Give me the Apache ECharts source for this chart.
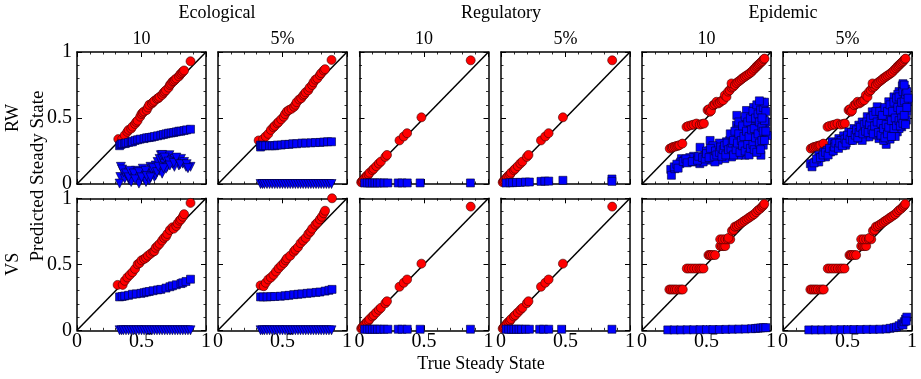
<!DOCTYPE html>
<html><head><meta charset="utf-8">
<script src="https://cdn.jsdelivr.net/npm/echarts@6/dist/echarts.min.js"></script>
<style>html,body{margin:0;padding:0;background:#fff}#c{width:921px;height:379px}</style>
</head><body><div id="c"></div>
<script>
// ---------- texts ----------
const groupTitles = ['Ecological', 'Regulatory', 'Epidemic'];
const colTitles = ['10', '5%', '10', '5%', '10', '5%'];
const rowTitles = ['RW', 'VS'];
const xAxisTitle = 'True Steady State';
const yAxisTitle = 'Predicted Steady State';
const tickMin = 0, tickMax = 1, tickStep = 0.5;
const diag = [[0, 0], [1, 1]];

// ---------- Ecological ----------
const ecoRedRW10 = [[0.32,0.34],[0.35,0.34],[0.37,0.37],[0.39,0.395],[0.40,0.41],[0.42,0.42],[0.43,0.435],[0.45,0.455],[0.46,0.47],[0.47,0.48],[0.49,0.51],[0.50,0.53],[0.51,0.54],[0.52,0.55],[0.54,0.56],[0.55,0.58],[0.56,0.60],[0.58,0.61],[0.59,0.62],[0.60,0.63],[0.62,0.645],[0.63,0.65],[0.64,0.66],[0.66,0.675],[0.67,0.69],[0.68,0.70],[0.69,0.71],[0.71,0.73],[0.72,0.75],[0.73,0.76],[0.74,0.775],[0.75,0.78],[0.76,0.79],[0.77,0.80],[0.79,0.815],[0.80,0.83],[0.81,0.84],[0.82,0.85],[0.83,0.86],[0.88,0.93]];
const ecoRedRW5 = [[0.315,0.33],[0.35,0.34],[0.37,0.36],[0.39,0.38],[0.41,0.41],[0.43,0.43],[0.44,0.44],[0.46,0.46],[0.47,0.47],[0.49,0.49],[0.51,0.51],[0.52,0.53],[0.535,0.55],[0.55,0.56],[0.57,0.57],[0.59,0.585],[0.60,0.60],[0.61,0.62],[0.63,0.64],[0.645,0.65],[0.66,0.67],[0.67,0.68],[0.68,0.695],[0.70,0.71],[0.71,0.73],[0.73,0.75],[0.74,0.77],[0.755,0.79],[0.77,0.80],[0.79,0.825],[0.80,0.84],[0.82,0.86],[0.83,0.87],[0.88,0.94]];
const ecoRedVS10 = [[0.315,0.344],[0.354,0.344],[0.37,0.375],[0.39,0.40],[0.41,0.42],[0.43,0.44],[0.45,0.465],[0.47,0.50],[0.485,0.51],[0.50,0.53],[0.52,0.54],[0.535,0.55],[0.55,0.565],[0.57,0.58],[0.59,0.595],[0.60,0.60],[0.61,0.625],[0.625,0.64],[0.64,0.655],[0.66,0.68],[0.675,0.70],[0.69,0.71],[0.70,0.73],[0.72,0.76],[0.74,0.78],[0.75,0.77],[0.77,0.79],[0.78,0.81],[0.795,0.83],[0.806,0.84],[0.82,0.86],[0.83,0.88],[0.88,0.965]];
const ecoRedVS5 = [[0.33,0.34],[0.354,0.334],[0.37,0.36],[0.39,0.385],[0.41,0.40],[0.43,0.42],[0.45,0.445],[0.47,0.47],[0.49,0.49],[0.51,0.51],[0.525,0.53],[0.535,0.545],[0.56,0.565],[0.587,0.595],[0.60,0.61],[0.62,0.63],[0.64,0.66],[0.66,0.68],[0.68,0.70],[0.70,0.73],[0.716,0.747],[0.73,0.77],[0.755,0.80],[0.77,0.815],[0.79,0.84],[0.805,0.86],[0.82,0.886],[0.83,0.906],[0.884,1.0]];
const ecoSqRW10 = [[0.33,0.29],[0.34,0.30],[0.35,0.305],[0.37,0.306],[0.38,0.31],[0.40,0.315],[0.42,0.32],[0.43,0.32],[0.45,0.33],[0.47,0.335],[0.49,0.34],[0.52,0.344],[0.54,0.35],[0.56,0.352],[0.58,0.355],[0.60,0.36],[0.625,0.365],[0.65,0.37],[0.67,0.375],[0.69,0.38],[0.71,0.385],[0.73,0.387],[0.75,0.39],[0.77,0.395],[0.79,0.40],[0.806,0.40],[0.83,0.405],[0.85,0.41],[0.88,0.415]];
const ecoSqRW5 = [[0.33,0.28],[0.33,0.295],[0.34,0.29],[0.35,0.29],[0.37,0.29],[0.40,0.29],[0.42,0.29],[0.44,0.29],[0.46,0.295],[0.49,0.295],[0.52,0.30],[0.55,0.30],[0.58,0.305],[0.61,0.305],[0.65,0.31],[0.68,0.31],[0.72,0.312],[0.755,0.314],[0.79,0.315],[0.82,0.318],[0.85,0.32],[0.88,0.32]];
const ecoSqVS10 = [[0.33,0.253],[0.35,0.256],[0.37,0.26],[0.40,0.265],[0.43,0.273],[0.46,0.276],[0.496,0.28],[0.52,0.285],[0.54,0.29],[0.56,0.294],[0.59,0.30],[0.625,0.306],[0.65,0.31],[0.69,0.32],[0.72,0.33],[0.74,0.337],[0.77,0.345],[0.806,0.354],[0.82,0.36],[0.845,0.37],[0.88,0.387]];
const ecoSqVS5 = [[0.33,0.253],[0.35,0.253],[0.38,0.253],[0.41,0.255],[0.44,0.256],[0.483,0.258],[0.52,0.262],[0.55,0.265],[0.587,0.27],[0.62,0.273],[0.65,0.276],[0.69,0.28],[0.72,0.283],[0.76,0.287],[0.79,0.29],[0.83,0.297],[0.86,0.303],[0.884,0.31]];
const ecoTriRW10 = [[0.34,0.13],[0.336,0.053],[0.33,0.003],[0.37,0.04],[0.39,0.066],[0.405,0.028],[0.43,0.09],[0.44,0.053],[0.47,0.028],[0.457,0.10],[0.496,0.078],[0.51,0.116],[0.52,0.04],[0.535,0.015],[0.55,0.09],[0.57,0.13],[0.587,0.078],[0.60,0.053],[0.61,0.14],[0.625,0.167],[0.64,0.19],[0.65,0.218],[0.66,0.19],[0.677,0.154],[0.69,0.205],[0.70,0.13],[0.716,0.218],[0.73,0.18],[0.74,0.154],[0.755,0.19],[0.78,0.167],[0.79,0.14],[0.806,0.19],[0.82,0.154],[0.83,0.167],[0.845,0.13],[0.88,0.13],[0.64,0.10],[0.66,0.078],[0.61,0.066],[0.56,0.028],[0.48,0.003],[0.42,0.015],[0.755,0.13],[0.69,0.116],[0.66,0.22],[0.68,0.20],[0.36,0.09],[0.46,0.06],[0.58,0.11],[0.35,0.11],[0.38,0.08],[0.40,0.05],[0.41,0.10],[0.44,0.08],[0.45,0.035],[0.48,0.09],[0.50,0.05],[0.53,0.10],[0.54,0.06],[0.57,0.05],[0.59,0.12],[0.62,0.09],[0.63,0.13],[0.67,0.12],[0.71,0.17],[0.72,0.14],[0.75,0.16],[0.77,0.20],[0.80,0.15],[0.85,0.15],[0.86,0.12]];
const ecoTriZero = [[0.33,0],[0.345,0],[0.36,0],[0.38,0],[0.40,0],[0.42,0],[0.44,0],[0.46,0],[0.48,0],[0.50,0],[0.52,0],[0.54,0],[0.56,0],[0.58,0],[0.60,0],[0.62,0],[0.64,0],[0.66,0],[0.68,0],[0.70,0],[0.72,0],[0.74,0],[0.76,0],[0.78,0],[0.80,0],[0.82,0],[0.84,0],[0.86,0],[0.88,0]];

// ---------- Regulatory ----------
const regRed = [[0.013,0.013],[0.02,0.02],[0.026,0.027],[0.036,0.038],[0.045,0.05],[0.057,0.063],[0.07,0.072],[0.078,0.085],[0.10,0.105],[0.11,0.115],[0.13,0.135],[0.15,0.155],[0.166,0.17],[0.2,0.205],[0.213,0.22],[0.31,0.33],[0.343,0.36],[0.369,0.385],[0.48,0.505],[0.862,0.937]];
const regSqRW10 = [[0.04,0.008],[0.06,0.008],[0.08,0.008],[0.10,0.008],[0.12,0.008],[0.14,0.008],[0.16,0.008],[0.19,0.008],[0.22,0.008],[0.30,0.008],[0.33,0.008],[0.37,0.008],[0.47,0.008],[0.86,0.008]];
const regSqRW5 = [[0.04,0.008],[0.07,0.01],[0.09,0.01],[0.12,0.012],[0.15,0.012],[0.19,0.015],[0.22,0.015],[0.31,0.02],[0.34,0.022],[0.37,0.022],[0.48,0.028],[0.86,0.038],[0.86,0.02]];
const regSqVS = [[0.04,0.008],[0.06,0.008],[0.08,0.008],[0.10,0.008],[0.12,0.008],[0.14,0.008],[0.16,0.008],[0.19,0.008],[0.22,0.008],[0.30,0.008],[0.33,0.008],[0.37,0.008],[0.47,0.008],[0.86,0.008]];

// ---------- Epidemic ----------
const epiRedRW = [[0.215,0.268],[0.23,0.275],[0.24,0.28],[0.255,0.283],[0.267,0.288],[0.28,0.29],[0.29,0.294],[0.313,0.306],[0.345,0.433],[0.36,0.44],[0.383,0.446],[0.40,0.45],[0.422,0.458],[0.448,0.45],[0.465,0.455],[0.48,0.458],[0.508,0.56],[0.518,0.567],[0.526,0.547],[0.535,0.555],[0.552,0.597],[0.565,0.605],[0.578,0.623],[0.59,0.61],[0.604,0.618],[0.617,0.63],[0.63,0.635],[0.642,0.673],[0.655,0.66],[0.668,0.70],[0.68,0.71],[0.694,0.73],[0.707,0.737],[0.694,0.762],[0.72,0.75],[0.733,0.765],[0.746,0.775],[0.76,0.785],[0.772,0.795],[0.785,0.805],[0.798,0.813],[0.81,0.822],[0.824,0.83],[0.837,0.84],[0.85,0.85],[0.863,0.865],[0.876,0.876],[0.886,0.888],[0.896,0.896],[0.905,0.906],[0.914,0.914],[0.924,0.923],[0.933,0.932],[0.943,0.944],[0.95,0.95]];
const epiRedVS = [[0.212,0.309],[0.225,0.309],[0.24,0.309],[0.255,0.309],[0.27,0.309],[0.29,0.309],[0.305,0.309],[0.316,0.309],[0.347,0.468],[0.365,0.468],[0.385,0.468],[0.405,0.468],[0.425,0.468],[0.445,0.468],[0.46,0.468],[0.477,0.468],[0.515,0.57],[0.525,0.57],[0.535,0.57],[0.55,0.57],[0.567,0.57],[0.606,0.638],[0.62,0.638],[0.632,0.638],[0.645,0.638],[0.606,0.689],[0.625,0.689],[0.645,0.689],[0.665,0.689],[0.684,0.689],[0.67,0.70],[0.697,0.754],[0.71,0.76],[0.72,0.785],[0.735,0.79],[0.75,0.8],[0.765,0.81],[0.78,0.82],[0.795,0.83],[0.81,0.84],[0.825,0.85],[0.84,0.86],[0.855,0.87],[0.87,0.88],[0.885,0.895],[0.9,0.91],[0.915,0.92],[0.93,0.935],[0.94,0.945],[0.948,0.957]];
const epiSqRW10 = [[0.223,0.111],[0.228,0.066],[0.254,0.116],[0.293,0.154],[0.306,0.192],[0.30,0.167],[0.33,0.18],[0.358,0.167],[0.383,0.18],[0.41,0.192],[0.448,0.154],[0.46,0.192],[0.487,0.218],[0.513,0.18],[0.54,0.218],[0.526,0.256],[0.565,0.243],[0.59,0.205],[0.578,0.28],[0.617,0.268],[0.63,0.306],[0.642,0.23],[0.668,0.28],[0.68,0.33],[0.694,0.243],[0.72,0.294],[0.707,0.37],[0.733,0.446],[0.746,0.344],[0.76,0.268],[0.772,0.408],[0.785,0.306],[0.798,0.484],[0.81,0.37],[0.824,0.268],[0.837,0.433],[0.85,0.52],[0.863,0.33],[0.876,0.572],[0.889,0.395],[0.90,0.28],[0.914,0.61],[0.927,0.496],[0.933,0.357],[0.948,0.585],[0.953,0.42],[0.94,0.294],[0.922,0.218],[0.863,0.243],[0.798,0.218],[0.746,0.218],[0.694,0.205],[0.642,0.192],[0.59,0.18],[0.565,0.167],[0.746,0.42],[0.772,0.37],[0.798,0.42],[0.824,0.38],[0.85,0.446],[0.876,0.47],[0.889,0.52],[0.90,0.446],[0.863,0.395],[0.837,0.32],[0.785,0.268],[0.72,0.243],[0.668,0.243],[0.617,0.23],[0.474,0.167],[0.42,0.167],[0.914,0.395],[0.94,0.52],[0.90,0.572],[0.927,0.60],[0.72,0.357],[0.68,0.294],[0.655,0.32],[0.81,0.458],[0.85,0.37],[0.45,0.278],[0.528,0.33],[0.684,0.38],[0.735,0.52],[0.81,0.557],[0.865,0.58],[0.97,0.367],[0.96,0.47],[0.93,0.62],[0.50,0.25],[0.60,0.31],[0.55,0.29],[0.40,0.21],[0.37,0.20],
  [0.25,0.13],[0.27,0.15],[0.28,0.12],[0.32,0.17],[0.34,0.19],[0.35,0.16],[0.39,0.17],[0.43,0.18],[0.44,0.21],[0.47,0.20],[0.49,0.19],[0.50,0.23],[0.52,0.20],[0.53,0.27],[0.56,0.21],[0.57,0.25],[0.58,0.22],[0.60,0.24],[0.61,0.28],[0.62,0.21],[0.63,0.26],[0.64,0.29],[0.65,0.22],[0.66,0.31],[0.67,0.26],[0.69,0.27],[0.70,0.31],[0.71,0.22],[0.71,0.33],[0.72,0.40],[0.73,0.26],[0.74,0.31],[0.75,0.38],[0.75,0.47],[0.76,0.24],[0.77,0.33],[0.78,0.44],[0.78,0.29],[0.79,0.36],[0.80,0.51],[0.80,0.25],[0.81,0.40],[0.82,0.30],[0.82,0.47],[0.83,0.22],[0.83,0.36],[0.84,0.50],[0.84,0.27],[0.85,0.41],[0.86,0.55],[0.86,0.30],[0.87,0.42],[0.87,0.26],[0.88,0.50],[0.88,0.35],[0.89,0.60],[0.89,0.24],[0.90,0.38],[0.90,0.53],[0.91,0.31],[0.91,0.47],[0.92,0.56],[0.92,0.26],[0.93,0.43],[0.93,0.33],[0.94,0.58],[0.94,0.40],[0.95,0.48],[0.95,0.33],[0.96,0.55],[0.96,0.40],[0.95,0.62],[0.91,0.63],[0.93,0.50]];
const epiSqRW5 = [[0.212,0.154],[0.225,0.13],[0.25,0.167],[0.277,0.218],[0.303,0.205],[0.316,0.243],[0.342,0.256],[0.368,0.243],[0.394,0.28],[0.38,0.32],[0.42,0.294],[0.433,0.344],[0.458,0.32],[0.47,0.365],[0.497,0.344],[0.51,0.395],[0.536,0.365],[0.55,0.42],[0.575,0.395],[0.588,0.446],[0.60,0.37],[0.614,0.47],[0.627,0.42],[0.64,0.357],[0.653,0.51],[0.666,0.433],[0.679,0.382],[0.692,0.547],[0.705,0.47],[0.718,0.395],[0.73,0.585],[0.744,0.51],[0.756,0.42],[0.77,0.357],[0.782,0.56],[0.795,0.484],[0.808,0.408],[0.82,0.623],[0.834,0.535],[0.847,0.446],[0.86,0.66],[0.873,0.585],[0.878,0.496],[0.886,0.395],[0.90,0.70],[0.904,0.61],[0.912,0.52],[0.92,0.433],[0.925,0.744],[0.933,0.66],[0.94,0.572],[0.95,0.72],[0.956,0.484],[0.964,0.62],[0.744,0.344],[0.705,0.37],[0.795,0.382],[0.847,0.382],[0.90,0.42],[0.666,0.357],[0.562,0.344],[0.484,0.294],[0.614,0.33],[0.329,0.205],[0.277,0.167],[0.523,0.33],[0.82,0.496],[0.886,0.547],[0.77,0.446],[0.73,0.42],[0.925,0.572],[0.89,0.68],[0.80,0.30],[0.78,0.33],[0.83,0.34],[0.87,0.36],[0.93,0.76],[0.96,0.55],[0.45,0.33],[0.40,0.30],
  [0.24,0.16],[0.26,0.19],[0.29,0.20],[0.31,0.22],[0.33,0.24],[0.35,0.22],[0.36,0.27],[0.39,0.25],[0.40,0.28],[0.41,0.31],[0.43,0.27],[0.44,0.31],[0.46,0.29],[0.48,0.34],[0.49,0.31],[0.50,0.37],[0.52,0.34],[0.53,0.39],[0.54,0.33],[0.56,0.37],[0.57,0.41],[0.58,0.35],[0.59,0.39],[0.60,0.43],[0.62,0.38],[0.63,0.45],[0.64,0.40],[0.65,0.47],[0.66,0.39],[0.67,0.45],[0.68,0.50],[0.69,0.41],[0.70,0.52],[0.70,0.38],[0.71,0.44],[0.72,0.55],[0.73,0.47],[0.74,0.39],[0.75,0.55],[0.76,0.46],[0.76,0.37],[0.77,0.52],[0.78,0.42],[0.79,0.58],[0.79,0.35],[0.80,0.45],[0.81,0.55],[0.81,0.38],[0.82,0.43],[0.83,0.60],[0.84,0.48],[0.84,0.36],[0.85,0.55],[0.86,0.42],[0.86,0.62],[0.87,0.50],[0.88,0.44],[0.88,0.65],[0.89,0.58],[0.90,0.48],[0.90,0.66],[0.91,0.56],[0.91,0.44],[0.92,0.62],[0.92,0.50],[0.93,0.70],[0.93,0.46],[0.94,0.63],[0.94,0.52],[0.95,0.68],[0.95,0.45],[0.96,0.58],[0.96,0.70],[0.94,0.75],[0.97,0.65]];
const epiSqVS10 = [[0.20,0.003],[0.25,0.003],[0.30,0.003],[0.35,0.004],[0.40,0.004],[0.45,0.005],[0.50,0.005],[0.55,0.006],[0.60,0.006],[0.65,0.007],[0.70,0.008],[0.75,0.009],[0.80,0.01],[0.85,0.012],[0.88,0.014],[0.90,0.016],[0.92,0.018],[0.94,0.02],[0.96,0.02]];
const epiSqVS5 = [[0.20,0.003],[0.25,0.003],[0.30,0.003],[0.35,0.004],[0.40,0.004],[0.45,0.005],[0.50,0.005],[0.55,0.006],[0.60,0.006],[0.65,0.007],[0.70,0.007],[0.75,0.008],[0.80,0.01],[0.83,0.015],[0.86,0.02],[0.88,0.025],[0.90,0.035],[0.92,0.05],[0.93,0.04],[0.94,0.065],[0.95,0.085],[0.96,0.10],[0.955,0.07]];

// panel -> data (row, col)
const panels = [
  {row:0,col:0,red:ecoRedRW10,sq:ecoSqRW10,tri:ecoTriRW10},
  {row:0,col:1,red:ecoRedRW5,sq:ecoSqRW5,tri:ecoTriZero},
  {row:0,col:2,red:regRed,sq:regSqRW10},
  {row:0,col:3,red:regRed,sq:regSqRW5},
  {row:0,col:4,red:epiRedRW,sq:epiSqRW10},
  {row:0,col:5,red:epiRedRW,sq:epiSqRW5},
  {row:1,col:0,red:ecoRedVS10,sq:ecoSqVS10,tri:ecoTriZero},
  {row:1,col:1,red:ecoRedVS5,sq:ecoSqVS5,tri:ecoTriZero},
  {row:1,col:2,red:regRed,sq:regSqVS},
  {row:1,col:3,red:regRed,sq:regSqVS},
  {row:1,col:4,red:epiRedVS,sq:epiSqVS10},
  {row:1,col:5,red:epiRedVS,sq:epiSqVS5}
];

// ---------- layout / style ----------
const FONT = '"Liberation Serif", "Times New Roman", serif';
const lefts = [77, 218, 359.5, 501, 642, 783];
const tops = [52, 198.3];
const PW = 129, PH = 132;

const grids = [], xAxes = [], yAxes = [], series = [];
function axisBase(gi, extra) {
  return Object.assign({
    type: 'value', gridIndex: gi, min: tickMin, max: tickMax, interval: tickStep,
    axisLine: {show: true, onZero: false, lineStyle: {color: '#000', width: 1.5}},
    axisTick: {show: true, inside: true, length: 5, lineStyle: {color: '#000', width: 1}},
    minorTick: {show: true, splitNumber: 5, length: 2.5, lineStyle: {color: '#000', width: 0.8}},
    splitLine: {show: false}, minorSplitLine: {show: false}
  }, extra);
}
const labelStyle = {fontFamily: FONT, fontSize: 20, color: '#000', formatter: v => String(v)};

panels.forEach((p, gi) => {
  grids.push({left: lefts[p.col], top: tops[p.row], width: PW, height: PH, containLabel: false});
  xAxes.push(axisBase(gi, {position: 'bottom', axisLabel: Object.assign({show: p.row === 1, margin: 1}, labelStyle)}));
  xAxes.push(axisBase(gi, {position: 'top', axisLabel: {show: false}}));
  yAxes.push(axisBase(gi, {position: 'left', axisLabel: Object.assign({show: p.col === 0, margin: 5}, labelStyle)}));
  yAxes.push(axisBase(gi, {position: 'right', axisLabel: {show: false}}));
  const xi = gi * 2, yi = gi * 2;
  series.push({type: 'line', xAxisIndex: xi, yAxisIndex: yi, data: diag, showSymbol: false, silent: true,
    lineStyle: {color: '#000', width: 1.5}, z: 1});
  series.push({type: 'scatter', xAxisIndex: xi, yAxisIndex: yi, data: p.red, symbol: 'circle', symbolSize: 9,
    itemStyle: {color: '#ff0000', borderColor: '#3a0000', borderWidth: 0.6, opacity: 1}, z: 2});
  series.push({type: 'scatter', xAxisIndex: xi, yAxisIndex: yi, data: p.sq, symbol: 'rect', symbolSize: 8,
    itemStyle: {color: '#0000ff', borderColor: '#000033', borderWidth: 0.6, opacity: 1}, z: 3});
  if (p.tri) series.push({type: 'scatter', xAxisIndex: xi, yAxisIndex: yi, data: p.tri, symbol: 'triangle', symbolRotate: 180, symbolSize: 9,
    itemStyle: {color: '#0000ff', borderColor: '#000033', borderWidth: 0.6, opacity: 1}, z: 3});
});

const txt = (text, x, y, size, rot) => ({type: 'text', x, y, rotation: rot || 0, silent: true,
  style: {text, font: size + 'px ' + FONT, fill: '#000', align: 'center', verticalAlign: 'middle'}});
const graphics = [];
const groupCenters = [217, 501, 783];
groupTitles.forEach((t, i) => graphics.push(txt(t, groupCenters[i], 13, 18)));
colTitles.forEach((t, i) => graphics.push(txt(t, lefts[i] + PW / 2, 39, 18)));
rowTitles.forEach((t, i) => graphics.push(txt(t, 13, tops[i] + PH / 2, 18, Math.PI / 2)));
graphics.push(txt(yAxisTitle, 38, 176, 19, Math.PI / 2));
graphics.push(txt(xAxisTitle, 481, 364, 18));

const chart = echarts.init(document.getElementById('c'), null, {renderer: 'canvas'});
chart.setOption({
  animation: false, backgroundColor: '#fff',
  grid: grids, xAxis: xAxes, yAxis: yAxes, series, graphic: graphics
});
</script></body></html>
